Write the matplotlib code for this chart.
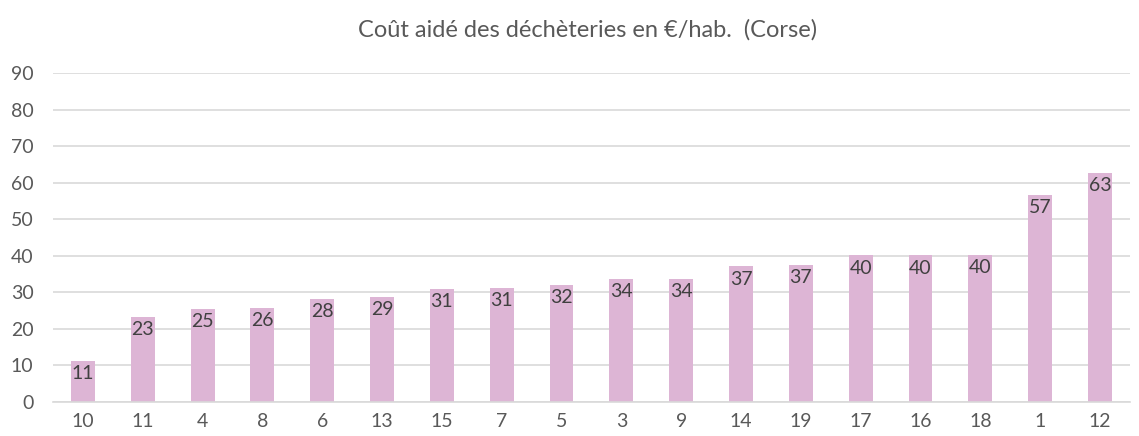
import matplotlib
matplotlib.use("Agg")
import matplotlib.pyplot as plt

categories = ["10", "11", "4", "8", "6", "13", "15", "7", "5", "3", "9",
              "14", "19", "17", "16", "18", "1", "12"]
values = [11.2, 23.2, 25.4, 25.7, 28.2, 28.7, 30.9, 31.2, 32.0, 33.6, 33.7,
          37.1, 37.4, 40.1, 40.1, 40.3, 56.6, 62.7]
title = "Coût aidé des déchèteries en €/hab.  (Corse)"

plt.rcParams['font.family'] = ['Lato', 'DejaVu Sans']

fig = plt.figure(figsize=(11.39, 4.36), dpi=100)
ax = fig.add_axes([0.0465, 0.078, 0.9455, 0.7546])

x = range(len(categories))
bars = ax.bar(x, values, width=0.4, color="#DDB5D5", zorder=2)

for xi, v in zip(x, values):
    ax.annotate(f"{v:.0f}", (xi, v), xytext=(0, -3), textcoords="offset points",
                ha="center", va="top", fontsize=14, color="#404040", zorder=3)

ax.set_xlim(-0.5, len(categories) - 0.5)
ax.set_ylim(0, 90)
ax.set_yticks(range(0, 91, 10))
ax.set_xticks(list(x))
ax.set_xticklabels(categories)
ax.yaxis.grid(True, color="#D9D9D9", linewidth=1.2, zorder=0)
ax.set_axisbelow(True)
for s in ["top", "right", "left"]:
    ax.spines[s].set_visible(False)
ax.spines["bottom"].set_color("#D9D9D9")
ax.spines["bottom"].set_linewidth(1.2)
ax.tick_params(axis="both", length=0, labelsize=14, labelcolor="#595959")
ax.tick_params(axis="x", pad=8)
ax.tick_params(axis="y", pad=14)

fig.text(0.516, 0.931, title, ha="center", va="center", fontsize=17, color="#595959")

fig.savefig("out.png", dpi=100)
